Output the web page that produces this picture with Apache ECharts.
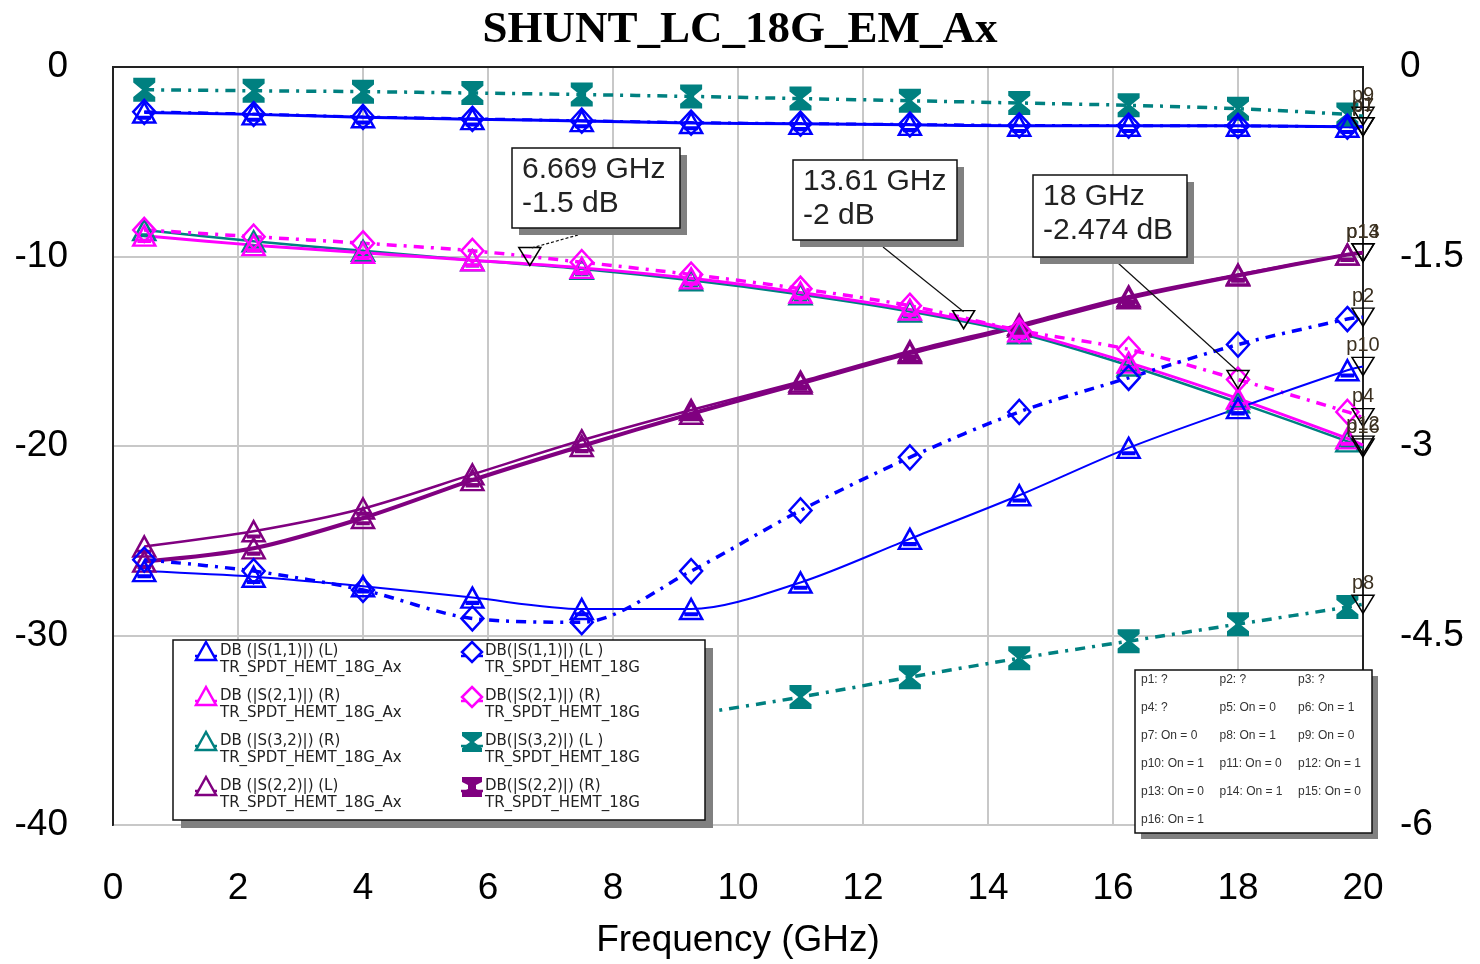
<!DOCTYPE html>
<html>
<head>
<meta charset="utf-8">
<script src="https://cdn.jsdelivr.net/npm/echarts@6/dist/echarts.min.js"></script>
<style>html,body{margin:0;background:#fff}#chart{width:1480px;height:964px}</style>
</head>
<body>
<div id="chart"></div>
<script>
// frequency points (GHz) where the markers sit, plus the sweep end
var freqs = [0.5, 2.25, 4.0, 5.75, 7.5, 9.25, 11.0, 12.75, 14.5, 16.25, 18.0, 19.75, 20.0];

// left axis (dB)
var s11AxL   = [-26.6, -26.9, -27.4, -28.0, -28.6, -28.6, -27.2, -24.9, -22.6, -20.1, -18.0, -16.0, -15.8];
var s11G18L  = [-26.0, -26.6, -27.6, -29.1, -29.3, -26.6, -23.4, -20.6, -18.2, -16.4, -14.65, -13.3, -13.2];
var s32G18L  = [-47.0, -42.5, -38.8, -36.6, -35.3, -34.2, -33.25, -32.2, -31.2, -30.3, -29.4, -28.5, -28.35];
var s22AxL   = [-25.3, -24.5, -23.3, -21.5, -19.7, -18.1, -16.6, -15.0, -13.6, -12.1, -10.95, -9.9, -9.8];

// right axis (dB)
var s21AxR   = [-1.335, -1.41, -1.47, -1.53, -1.59, -1.673, -1.785, -1.92, -2.093, -2.34, -2.625, -2.94, -2.993];
var s21G18R  = [-1.29, -1.343, -1.395, -1.455, -1.545, -1.643, -1.755, -1.89, -2.085, -2.235, -2.474, -2.73, -2.775];
var s32AxR   = [-1.29, -1.38, -1.455, -1.53, -1.598, -1.688, -1.8, -1.935, -2.108, -2.363, -2.655, -2.963, -3.015];
var s22G18R  = [-3.915, -3.81, -3.57, -3.27, -3.0, -2.745, -2.505, -2.265, -2.055, -1.83, -1.65, -1.485, -1.47];
var topTealR = [-0.18, -0.188, -0.195, -0.206, -0.218, -0.233, -0.25, -0.267, -0.285, -0.303, -0.33, -0.375, -0.39];
var topBlueAxR  = [-0.36, -0.375, -0.398, -0.413, -0.428, -0.443, -0.45, -0.458, -0.465, -0.465, -0.465, -0.473, -0.473];
var topBlueG18R = [-0.355, -0.372, -0.395, -0.41, -0.425, -0.44, -0.448, -0.455, -0.462, -0.464, -0.466, -0.472, -0.472];

// readout markers on DB(|S(2,1)|) (R) TR_SPDT_HEMT_18G
var readoutFreq = [6.669, 13.61, 18];
var readoutVal  = [-1.5, -2, -2.474];

var xTicks = [0, 20, 2];
var leftTicks = [-40, 0, 10];
var rightTicks = [-6, 0, 1.5];

var paramText = ['p1: ?', 'p2: ?', 'p3: ?', 'p4: ?', 'p5: On = 0', 'p6: On = 1', 'p7: On = 0', 'p8: On = 1',
  'p9: On = 0', 'p10: On = 1', 'p11: On = 0', 'p12: On = 1', 'p13: On = 0', 'p14: On = 1', 'p15: On = 0', 'p16: On = 1'];

var blue = '#0000ff', pink = '#ff00ff', teal = '#008080', purple = '#800080';
// marker outlines in a 20x20 box
var triPts = [[10, 0], [20, 18], [0, 18]];
var diaPts = [[10, 0], [20, 10], [10, 20], [0, 10]];
var bowPts = [[0, 0], [20, 0], [20, 4], [12, 10], [20, 16], [20, 20], [0, 20], [0, 16], [8, 10], [0, 4]];
var ibeamPts = [[0, 0], [20, 0], [20, 5], [14, 8], [14, 12], [20, 15], [20, 20], [0, 20], [0, 15], [6, 12], [6, 8], [0, 5]];
var dashDot = [10, 7, 3, 7];
var FONT = 'Liberation Sans';

function toPath(p, extra) {
  return 'path://M' + p.map(function (q) { return q[0] + ',' + q[1]; }).join(' L') + ' Z' + (extra || '');
}
var triPath = toPath(triPts, ' M5,13 L15,13 L15,14.5 L5,14.5 Z');
var diaPath = toPath(diaPts);
var bowPath = toPath(bowPts);

function pts(vals) {
  return vals.map(function (v, i) {
    return i === freqs.length - 1 ? { value: [freqs[i], v], symbol: 'none' } : [freqs[i], v];
  });
}

function line(name, vals, axis, color, width, dash, path, size, filled, endLabel) {
  return {
    name: name,
    type: 'line',
    yAxisIndex: axis,
    data: pts(vals),
    smooth: 0.3,
    symbol: path,
    symbolSize: size,
    lineStyle: { color: color, width: width, type: dash || 'solid' },
    itemStyle: {
      color: filled ? color : 'rgba(255,255,255,0)',
      borderColor: color,
      borderWidth: filled ? 0 : 2.5
    },
    markPoint: {
      symbol: 'path://M0,0 L20,0 L10,18 Z',
      symbolSize: [22, 18],
      itemStyle: { color: 'rgba(255,255,255,0)', borderColor: '#000', borderWidth: 1.5 },
      label: { show: true, position: 'top', distance: 1, formatter: endLabel, color: '#3b3020', fontSize: 20, fontFamily: FONT },
      data: [{ coord: [freqs[freqs.length - 1], vals[vals.length - 1]] }]
    },
    z: 3
  };
}

var series = [
  line('DB(|S(3,2)|) (L) TR_SPDT_HEMT_18G', s32G18L, 0, teal, 3.5, dashDot, bowPath, [22, 24], true, 'p8'),
  line('DB (|S(2,2)|) (L) TR_SPDT_HEMT_18G_Ax', s22AxL, 0, purple, 2.5, null, triPath, [22, 20], false, 'p14'),
  line('DB(|S(2,2)|) (R) TR_SPDT_HEMT_18G', s22G18R, 1, purple, 4, null, triPath, [22, 20], false, 'p13'),
  line('DB (|S(3,2)|) (R) TR_SPDT_HEMT_18G_Ax', s32AxR, 1, teal, 2.5, null, triPath, [22, 20], false, 'p16'),
  line('DB (|S(2,1)|) (R) TR_SPDT_HEMT_18G_Ax', s21AxR, 1, pink, 3, null, triPath, [22, 20], false, 'p12'),
  line('DB(|S(2,1)|) (R) TR_SPDT_HEMT_18G', s21G18R, 1, pink, 3.5, dashDot, diaPath, [22, 24], false, 'p4'),
  line('DB (|S(1,1)|) (L) TR_SPDT_HEMT_18G_Ax', s11AxL, 0, blue, 2, null, triPath, [22, 20], false, 'p10'),
  line('DB(|S(1,1)|) (L) TR_SPDT_HEMT_18G', s11G18L, 0, blue, 3.5, dashDot, diaPath, [22, 24], false, 'p2'),
  line('top teal 18G', topTealR, 1, teal, 3.5, dashDot, bowPath, [22, 24], true, 'p9'),
  line('top blue 18G', topBlueG18R, 1, blue, 3, dashDot, diaPath, [22, 24], false, 'p1'),
  line('top blue Ax', topBlueAxR, 1, blue, 3, null, triPath, [22, 20], false, 'p7')
];

// readout triangles on the 18G S21 trace
var readSeries = series[5];
readoutFreq.forEach(function (f, i) {
  readSeries.markPoint.data.push({ coord: [f, readoutVal[i]], label: { show: false } });
});

// legend entries: order in the box, two columns
var legendItems = [
  { name: 'DB (|S(1,1)|) (L)\nTR_SPDT_HEMT_18G_Ax', color: blue, shape: triPts, filled: false },
  { name: 'DB(|S(1,1)|) (L )\nTR_SPDT_HEMT_18G', color: blue, shape: diaPts, filled: false },
  { name: 'DB (|S(2,1)|) (R)\nTR_SPDT_HEMT_18G_Ax', color: pink, shape: triPts, filled: false },
  { name: 'DB(|S(2,1)|) (R)\nTR_SPDT_HEMT_18G', color: pink, shape: diaPts, filled: false },
  { name: 'DB (|S(3,2)|) (R)\nTR_SPDT_HEMT_18G_Ax', color: teal, shape: triPts, filled: false },
  { name: 'DB(|S(3,2)|) (L )\nTR_SPDT_HEMT_18G', color: teal, shape: bowPts, filled: true },
  { name: 'DB (|S(2,2)|) (L)\nTR_SPDT_HEMT_18G_Ax', color: purple, shape: triPts, filled: false },
  { name: 'DB(|S(2,2)|) (R)\nTR_SPDT_HEMT_18G', color: purple, shape: ibeamPts, filled: true }
];

function boxWithShadow(x, y, w, h, off) {
  return [
    { type: 'rect', z: 100, shape: { x: x + off, y: y + off, width: w, height: h }, style: { fill: '#808080' } },
    { type: 'rect', z: 101, shape: { x: x, y: y, width: w, height: h }, style: { fill: '#fff', stroke: '#111', lineWidth: 1.5 } }
  ];
}

var graphics = [];
graphics = graphics.concat(boxWithShadow(173, 640, 532, 180, 8));
legendItems.forEach(function (it, i) {
  var col = i % 2, row = Math.floor(i / 2);
  var ix = col === 0 ? 206 : 472;
  var iy = 651 + row * 45;
  graphics.push({ type: 'line', z: 102, shape: { x1: ix - 11, y1: iy + 5, x2: ix + 11, y2: iy + 5 }, style: { stroke: it.color, lineWidth: 2.5 } });
  graphics.push({
    type: 'polygon', z: 103,
    shape: { points: it.shape.map(function (q) { return [ix - 10 + q[0], iy - 9 + q[1]]; }) },
    style: { fill: it.filled ? it.color : '#fff', stroke: it.color, lineWidth: it.filled ? 0 : 2.5 }
  });
  graphics.push({
    type: 'text', z: 103,
    style: { text: it.name, x: col === 0 ? 220 : 485, y: iy - 8, fontSize: 15, fontFamily: 'DejaVu Sans', fill: '#222', lineHeight: 17 }
  });
});

graphics = graphics.concat(boxWithShadow(1135, 670, 237, 163, 6));
paramText.forEach(function (t, i) {
  graphics.push({
    type: 'text', z: 102,
    style: { text: t, x: 1141 + (i % 3) * 78.5, y: 674 + Math.floor(i / 3) * 28, fontSize: 12, fontFamily: FONT, fill: '#333' }
  });
});

var chart = echarts.init(document.getElementById('chart'));

var axisLabelStyle = { color: '#000', fontSize: 37, fontFamily: FONT };

var option = {
  animation: false,
  backgroundColor: '#fff',
  title: {
    text: 'SHUNT_LC_18G_EM_Ax',
    left: 'center',
    top: 3,
    textStyle: { fontFamily: 'Liberation Serif', fontWeight: 'bold', fontSize: 45, color: '#000' }
  },
  grid: { left: 113, right: 117, top: 67, bottom: 137, show: true, borderColor: '#222', borderWidth: 2 },
  xAxis: {
    type: 'value', min: xTicks[0], max: xTicks[1], interval: xTicks[2],
    name: 'Frequency (GHz)', nameLocation: 'middle', nameGap: 97,
    nameTextStyle: { color: '#000', fontSize: 37, fontFamily: FONT },
    axisLine: { show: true, lineStyle: { color: '#222', width: 2 } },
    axisTick: { show: false },
    axisLabel: Object.assign({ margin: 45 }, axisLabelStyle),
    splitLine: { show: true, lineStyle: { color: '#c8c8c8', width: 2 } }
  },
  yAxis: [
    {
      type: 'value', position: 'left', min: leftTicks[0], max: leftTicks[1], interval: leftTicks[2],
      axisLine: { show: true, lineStyle: { color: '#222', width: 2 } },
      axisTick: { show: false },
      axisLabel: Object.assign({ margin: 45, padding: [8, 0, 0, 0] }, axisLabelStyle),
      splitLine: { show: true, lineStyle: { color: '#c8c8c8', width: 2 } }
    },
    {
      type: 'value', position: 'right', min: rightTicks[0], max: rightTicks[1], interval: rightTicks[2],
      axisLine: { show: true, lineStyle: { color: '#222', width: 2 } },
      axisTick: { show: false },
      axisLabel: Object.assign({ margin: 37, padding: [8, 0, 0, 0] }, axisLabelStyle),
      splitLine: { show: false }
    }
  ],
  series: series,
  graphic: graphics
};
chart.setOption(option);

// readout boxes and their leader lines
var boxes = [[512, 148, 168, 80], [793, 160, 164, 80], [1033, 175, 154, 82]];
var leadFrom = [[578, 235], [883, 247], [1118, 263]];
var readG = [];
readoutFreq.forEach(function (f, i) {
  var b = boxes[i];
  var p = chart.convertToPixel({ xAxisIndex: 0, yAxisIndex: 1 }, [f, readoutVal[i]]);
  readG.push({
    type: 'line', z: 99,
    shape: { x1: leadFrom[i][0], y1: leadFrom[i][1], x2: p[0], y2: p[1] - 8 },
    style: { stroke: '#111', lineWidth: 1.2, lineDash: i === 0 ? [3, 2] : null }
  });
  readG = readG.concat(boxWithShadow(b[0], b[1], b[2], b[3], 7));
  readG.push({
    type: 'text', z: 102,
    style: { text: f + ' GHz\n' + readoutVal[i] + ' dB', x: b[0] + 10, y: b[1] + 5, fontSize: 30, fontFamily: FONT, fill: '#222', lineHeight: 34 }
  });
});
chart.setOption({ graphic: graphics.concat(readG) });
</script>
</body>
</html>
